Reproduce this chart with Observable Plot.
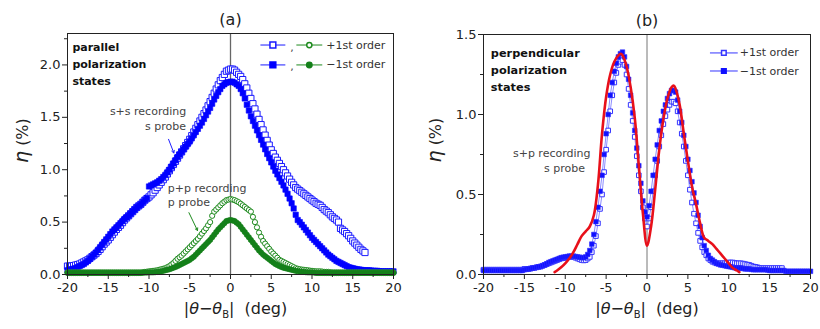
<!DOCTYPE html>
<html><head><meta charset="utf-8">
<script src="https://cdn.jsdelivr.net/npm/d3@7"></script>
<script src="https://cdn.jsdelivr.net/npm/@observablehq/plot@0.6"></script>
<style>
body{margin:0;background:#fff;}
#wrap{display:flex;width:820px;height:329px;overflow:hidden;}
</style></head><body><div id="wrap"></div>
<script>
// ---------- data ----------
const gridX = [-20,-19.75,-19.5,-19.25,-19,-18.75,-18.5,-18.25,-18,-17.75,-17.5,-17.25,-17,-16.75,-16.5,-16.25,-16,-15.75,-15.5,-15.25,
  -15,-14.75,-14.5,-14.25,-14,-13.75,-13.5,-13.25,-13,-12.75,-12.5,-12.25,-12,-11.75,-11.5,-11.25,-11,-10.75,-10.5,-10.25,
  -10,-9.75,-9.5,-9.25,-9,-8.75,-8.5,-8.25,-8,-7.75,-7.5,-7.25,-7,-6.75,-6.5,-6.25,-6,-5.75,-5.5,-5.25,
  -5,-4.75,-4.5,-4.25,-4,-3.75,-3.5,-3.25,-3,-2.75,-2.5,-2.25,-2,-1.75,-1.5,-1.25,-1,-0.75,-0.5,-0.25,
  0,0.25,0.5,0.75,1,1.25,1.5,1.75,2,2.25,2.5,2.75,3,3.25,3.5,3.75,4,4.25,4.5,4.75,
  5,5.25,5.5,5.75,6,6.25,6.5,6.75,7,7.25,7.5,7.75,8,8.25,8.5,8.75,9,9.25,9.5,9.75,
  10,10.25,10.5,10.75,11,11.25,11.5,11.75,12,12.25,12.5,12.75,13,13.25,13.5,13.75,14,14.25,14.5,14.75,
  15,15.25,15.5,15.75,16,16.25,16.5,16.75,17,17.25,17.5,17.75,18,18.25,18.5,18.75,19,19.25,19.5,19.75,
  20];

// panel (a): parallel polarization states (+1st = open, -1st = filled)
const aBlueOpen = [
  .08,.08,.08,.085,.09,.095,.10,.11,.12,.13,.14,.155,.17,.185,.20,.22,.24,.265,.29,.31,
  .33,.355,.38,.405,.43,.45,.47,.495,.52,.54,.56,.58,.60,.62,.64,.655,.67,.69,.71,.725,
  .74,.76,.78,.805,.83,.855,.88,.905,.93,.96,.99,1.02,1.05,1.08,1.11,1.14,1.17,1.20,1.23,1.26,
  1.29,1.325,1.36,1.395,1.43,1.465,1.50,1.535,1.57,1.61,1.65,1.69,1.73,1.77,1.81,1.85,1.88,1.91,1.94,1.95,
  1.96,1.96,1.95,1.93,1.91,1.89,1.86,1.82,1.78,1.73,1.68,1.63,1.58,1.53,1.48,1.43,1.38,1.33,1.28,1.235,
  1.19,1.155,1.12,1.09,1.06,1.03,1.00,.97,.94,.91,.88,.855,.83,.815,.80,.785,.77,.755,.74,.725,
  .71,.695,.68,.67,.66,.64,.62,.605,.59,.57,.55,.535,.52,.50,.44,.425,.41,.39,.37,.345,
  .32,.30,.28,.26,.24,.225,.21];
const aBlueFilled = [
  .04,.045,.05,.055,.06,.07,.08,.09,.10,.115,.13,.15,.17,.19,.21,.235,.26,.285,.31,.335,
  .36,.385,.41,.43,.45,.47,.49,.51,.53,.545,.56,.58,.60,.62,.64,.655,.67,.69,.71,.73,
  .84,.85,.86,.87,.88,.895,.91,.93,.95,.975,1.00,1.03,1.06,1.09,1.12,1.145,1.17,1.195,1.22,1.245,
  1.27,1.30,1.33,1.36,1.39,1.42,1.45,1.485,1.52,1.555,1.59,1.63,1.67,1.705,1.74,1.77,1.80,1.815,1.83,1.835,
  1.84,1.84,1.83,1.815,1.80,1.77,1.73,1.68,1.62,1.565,1.51,1.465,1.42,1.375,1.33,1.285,1.24,1.195,1.15,1.11,
  1.07,1.03,.99,.955,.92,.885,.85,.81,.77,.725,.68,.63,.57,.52,.50,.475,.45,.425,.40,.375,
  .35,.33,.31,.29,.27,.25,.23,.21,.19,.175,.16,.145,.13,.12,.11,.10,.09,.08,.07,.065,
  .06,.055,.05,.048,.045,.042,.04,.04,.04,.038,.035,.035,.035,.032,.03,.03,.03,.03,.03,.03,
  .03];
const aGreenOpen = [
  .02,.02,.02,.02,.02,.02,.02,.02,.02,.02,.02,.02,.02,.02,.02,.02,.02,.02,.02,.02,
  .02,.02,.02,.02,.02,.02,.02,.02,.02,.02,.02,.02,.02,.02,.02,.02,.02,.022,.025,.027,
  .03,.032,.035,.037,.04,.045,.05,.055,.06,.07,.08,.095,.11,.13,.15,.165,.18,.20,.22,.24,
  .26,.28,.30,.32,.34,.365,.39,.415,.44,.47,.50,.56,.60,.62,.64,.66,.68,.695,.71,.715,
  .72,.715,.71,.70,.69,.675,.66,.645,.63,.615,.60,.55,.50,.45,.40,.36,.32,.295,.27,.245,
  .22,.20,.18,.16,.14,.13,.12,.11,.10,.09,.08,.07,.06,.055,.05,.047,.045,.042,.04,.037,
  .035,.032,.03,.03,.03,.028,.025,.025,.025,.022,.02,.02,.02,.02,.02,.02,.02,.02,.02,.02,
  .02,.02,.02,.02,.02,.02,.02,.02,.02,.02,.02,.02,.02,.02,.02,.02,.02,.02,.02,.02,
  .02];
const aGreenFilled = [
  .015,.015,.015,.015,.015,.015,.015,.015,.015,.015,.015,.015,.015,.015,.015,.015,.015,.015,.015,.015,
  .015,.015,.015,.015,.015,.015,.015,.015,.015,.015,.015,.015,.015,.015,.015,.015,.015,.017,.018,.019,
  .02,.02,.02,.022,.025,.027,.03,.035,.04,.045,.05,.057,.065,.072,.08,.09,.10,.11,.12,.13,
  .14,.155,.17,.19,.21,.23,.25,.27,.29,.31,.33,.355,.38,.405,.43,.45,.47,.49,.51,.515,
  .52,.515,.51,.495,.48,.455,.43,.405,.38,.355,.33,.305,.28,.255,.23,.21,.19,.175,.16,.145,
  .13,.115,.10,.09,.08,.072,.065,.06,.055,.05,.045,.04,.035,.032,.03,.027,.025,.022,.02,.02,
  .02,.018,.015,.015,.015,.015,.015,.015,.015,.015,.015,.015,.015,.015,.015,.015,.015,.015,.015,.015,
  .015,.015,.015,.015,.015,.015,.015,.015,.015,.015,.015,.015,.015,.015,.015,.015,.015,.015,.015,.015,
  .015];

// panel (b): perpendicular polarization states
const bBlueOpen = [
  .03,.03,.03,.03,.03,.03,.03,.03,.03,.03,.03,.03,.03,.03,.03,.03,.03,.03,.03,.03,
  .035,.035,.035,.037,.04,.042,.045,.048,.05,.055,.06,.065,.07,.075,.08,.085,.09,.095,.10,.102,
  .105,.108,.11,.11,.11,.105,.10,.095,.09,.088,.09,.10,.11,.14,.18,.24,.32,.41,.50,.64,
  .78,.90,1.02,1.12,1.20,1.26,1.31,1.33,1.34,1.31,1.25,1.16,1.06,.96,.86,.74,.62,.52,.42,.35,
  .30,.35,.42,.52,.62,.71,.80,.87,.94,.99,1.03,1.06,1.08,1.08,1.07,1.02,.95,.88,.80,.71,
  .62,.53,.45,.38,.32,.26,.21,.17,.14,.12,.10,.09,.08,.075,.07,.07,.07,.07,.07,.072,
  .075,.075,.075,.072,.07,.07,.07,.068,.065,.062,.06,.055,.05,.048,.045,.042,.04,.04,.04,.04,
  .04,.04,.04,.04,.04,.04,.04];
const bBlueFilled = [
  .025,.025,.025,.025,.025,.025,.025,.025,.025,.025,.025,.025,.025,.025,.025,.025,.025,.025,.025,.025,
  .03,.032,.035,.037,.04,.042,.045,.048,.05,.055,.06,.067,.075,.08,.085,.09,.095,.10,.105,.108,
  .11,.112,.115,.115,.115,.112,.11,.108,.105,.105,.11,.125,.15,.19,.25,.33,.42,.52,.62,.75,
  .88,1.00,1.12,1.20,1.27,1.32,1.36,1.38,1.39,1.36,1.30,1.22,1.12,1.01,.90,.79,.68,.57,.46,.39,
  .36,.43,.52,.62,.72,.81,.90,.96,1.02,1.06,1.10,1.13,1.15,1.15,1.14,1.09,1.02,.95,.87,.80,
  .72,.65,.58,.51,.45,.37,.30,.23,.18,.15,.12,.10,.09,.08,.07,.065,.06,.058,.055,.052,
  .05,.048,.045,.042,.04,.04,.04,.038,.035,.035,.035,.032,.03,.03,.03,.03,.03,.03,.03,.028,
  .025,.025,.025,.025,.025,.025,.025,.025,.02,.02,.02,.02,.02,.02,.02,.02,.02,.02,.02,.02,
  .02];
const fitX = [-11.3,-11,-10.5,-10,-9.5,-9,-8.5,-8,-7.5,-7,-6.5,-6,-5.5,-5,-4.5,-4,-3.5,-3.2,-3,-2.5,
  -2,-1.5,-1,-0.5,0,0.5,1,1.5,2,2.5,3,3.3,3.5,4,4.5,5,5.5,6,6.5,7,7.5,8,8.5,9,9.5,10,10.5,11,11.3];
const fitY = [0.015,0.025,0.045,0.07,0.10,0.14,0.19,0.24,0.27,0.30,0.37,0.56,0.88,1.11,1.25,1.33,1.37,1.38,1.37,1.30,
  1.17,0.98,0.68,0.38,0.18,0.30,0.53,0.78,0.97,1.10,1.17,1.18,1.16,1.06,0.88,0.71,0.55,0.44,0.32,0.23,0.21,0.19,0.16,0.13,0.10,0.07,0.04,0.025,0.015];

const xMajor = [-20,-15,-10,-5,0,5,10,15,20];
const xMinor = [-17.5,-12.5,-7.5,-2.5,2.5,7.5,12.5,17.5];
const yMajorA = [0,0.5,1,1.5,2];
const yMinorA = [0.25,0.75,1.25,1.75,2.25];
const yMajorB = [0,0.5,1,1.5];
const yMinorB = [0.25,0.75,1.25];
const legendLabels = ["+1st order", "\u22121st order"];

// ---------- helpers ----------
const rows = ys => ys.map((y, i) => ({x: gridX[i], y}));
const fitRows = fitX.map((x, i) => ({x, y: fitY[i]}));
const FONT = "DejaVu Sans, sans-serif";

function axes(yMajor, yMinor) {
  return [
    Plot.axisX({ticks: xMajor, tickSize: 5, tickPadding: 3, tickFormat: d => String(d), label: null}),
    Plot.axisX({ticks: xMinor, tickSize: 3, tickFormat: () => "", label: null}),
    Plot.axisY({ticks: yMajor, tickSize: 5, tickPadding: 2, tickFormat: d => d.toFixed(1), label: null}),
    Plot.axisY({ticks: yMinor, tickSize: 3, tickFormat: () => "", label: null})
  ];
}
function labels(title, ydx, ydy, xdx) {
  return [
    Plot.text([title], {text: d => d, frameAnchor: "top", dy: -20, fontSize: 16, fill: "#222"}),
    Plot.text(["XLABEL"], {text: d => d, frameAnchor: "bottom", dy: 39, dx: xdx, fontSize: 16, fill: "#222"}),
    Plot.text(["YLABEL"], {text: d => d, frameAnchor: "left", dx: ydx, dy: ydy, rotate: -90, fontSize: 16, fill: "#222"})
  ];
}
function rich(svg) {
  d3.select(svg).selectAll("text").each(function() {
    const t = d3.select(this);
    const s = this.textContent;
    if (s === "XLABEL") {
      t.text(null).attr("xml:space", "preserve");
      t.append("tspan").text("|");
      t.append("tspan").attr("font-style", "italic").text("\u03b8");
      t.append("tspan").text("\u2212");
      t.append("tspan").attr("font-style", "italic").text("\u03b8");
      t.append("tspan").attr("font-size", 10).attr("dy", 4).text("B");
      t.append("tspan").attr("dy", -4).text("|  (deg)");
    } else if (s === "YLABEL") {
      t.text(null).attr("xml:space", "preserve");
      t.append("tspan").attr("font-style", "italic").attr("font-size", 19).text("\u03b7");
      t.append("tspan").text(" (%)");
    }
  });
}

// ---------- panel (a) ----------
const aLegY = [2.19, 2.0];
const plotA = Plot.plot({
  width: 410, height: 329, marginTop: 33, marginBottom: 55, marginLeft: 67, marginRight: 17,
  x: {domain: [-20, 20]}, y: {domain: [0, 2.3]},
  style: {fontFamily: FONT, fontSize: "13px", color: "#222", background: "white"},
  marks: [
    Plot.ruleX([0], {stroke: "#666", strokeWidth: 1.3}),
    Plot.dot(rows(aBlueOpen), {x: "x", y: "y", symbol: "square", r: 3.5, stroke: "#1a1aff", fill: "white", strokeWidth: 1}),
    Plot.dot(rows(aBlueFilled), {x: "x", y: "y", symbol: "square", r: 3.0, fill: "#0000ff", stroke: "#0000ff", strokeWidth: 0.6}),
    Plot.dot(rows(aGreenOpen), {x: "x", y: "y", symbol: "circle", r: 2.6, stroke: "#1e8a1e", fill: "white", strokeWidth: 1}),
    Plot.dot(rows(aGreenFilled), {x: "x", y: "y", symbol: "circle", r: 2.7, fill: "#14801a", stroke: "#14801a", strokeWidth: 0.6}),
    Plot.frame({stroke: "#222", strokeWidth: 1}),
    ...axes(yMajorA, yMinorA),
    // annotations
    Plot.text(["parallel", "polarization", "states"], {x: -19.4, y: (d, i) => [2.166, 2.003, 1.84][i], text: d => d, textAnchor: "start", fontSize: 11, fontWeight: "bold", fill: "#111"}),
    Plot.text(["s+s recording", "s probe"], {x: (d, i) => [-14.8, -10.5][i], y: (d, i) => [1.56, 1.41][i], text: d => d, textAnchor: "start", fontSize: 11, fill: "#444"}),
    Plot.arrow([{x1: -7.6, y1: 1.29, x2: -6.95, y2: 1.16}], {x1: "x1", y1: "y1", x2: "x2", y2: "y2", stroke: "#2020ff", strokeWidth: 1, headLength: 4}),
    Plot.text(["p+p recording", "p probe"], {x: -7.7, y: (d, i) => [0.824, 0.69][i], text: d => d, textAnchor: "start", fontSize: 11, fill: "#444"}),
    Plot.arrow([{x1: -5.1, y1: 0.59, x2: -4.05, y2: 0.42}], {x1: "x1", y1: "y1", x2: "x2", y2: "y2", stroke: "#1e8a1e", strokeWidth: 1, headLength: 4}),
    // legend
    Plot.link(aLegY, {x1: 3.67, x2: 6.73, y1: d => d, y2: d => d, stroke: "#1a1aff", strokeWidth: 1}),
    Plot.link(aLegY, {x1: 8.08, x2: 11.26, y1: d => d, y2: d => d, stroke: "#1e8a1e", strokeWidth: 1}),
    Plot.dot([aLegY[0]], {x: 5.2, y: d => d, symbol: "square", r: 3.3, stroke: "#1a1aff", fill: "white"}),
    Plot.dot([aLegY[1]], {x: 5.2, y: d => d, symbol: "square", r: 3.3, stroke: "#0000ff", fill: "#0000ff"}),
    Plot.dot([aLegY[0]], {x: 9.67, y: d => d, symbol: "circle", r: 2.6, stroke: "#1e8a1e", fill: "white"}),
    Plot.dot([aLegY[1]], {x: 9.67, y: d => d, symbol: "circle", r: 2.7, stroke: "#14801a", fill: "#14801a"}),
    Plot.text(aLegY, {x: 7.55, y: d => d, text: () => ",", fontSize: 11, fill: "#444", dy: 2}),
    Plot.text(aLegY, {x: 11.75, y: d => d, text: (d, i) => legendLabels[i], textAnchor: "start", fontSize: 11, fill: "#333"}),
    ...labels("(a)", -45, 9, 5)
  ]
});

// ---------- panel (b) ----------
const bLegY = [1.385, 1.272];
const plotB = Plot.plot({
  width: 410, height: 329, marginTop: 34, marginBottom: 55, marginLeft: 73, marginRight: 10,
  x: {domain: [-20, 20]}, y: {domain: [0, 1.5]},
  style: {fontFamily: FONT, fontSize: "13px", color: "#222", background: "white"},
  marks: [
    Plot.ruleX([0], {stroke: "#777", strokeWidth: 1}),
    Plot.line(rows(bBlueOpen), {x: "x", y: "y", stroke: "#8c8cff", strokeWidth: 1}),
    Plot.line(rows(bBlueFilled), {x: "x", y: "y", stroke: "#8c8cff", strokeWidth: 1}),
    Plot.dot(rows(bBlueOpen), {x: "x", y: "y", symbol: "square", r: 2.6, stroke: "#3535ff", fill: "white", strokeWidth: 1}),
    Plot.dot(rows(bBlueFilled), {x: "x", y: "y", symbol: "square", r: 2.6, fill: "#1010ff", stroke: "#3030ff", strokeWidth: 0.6}),
    Plot.line(fitRows, {x: "x", y: "y", stroke: "#e8101a", strokeWidth: 2.6, curve: "catmull-rom"}),
    Plot.frame({stroke: "#222", strokeWidth: 1}),
    ...axes(yMajorB, yMinorB),
    Plot.text(["perpendicular", "polarization", "states"], {x: -19.1, y: (d, i) => [1.383, 1.277, 1.17][i], text: d => d, textAnchor: "start", fontSize: 11.3, fontWeight: "bold", fill: "#111"}),
    Plot.text(["s+p recording", "s probe"], {x: (d, i) => [-16.4, -12.6][i], y: (d, i) => [0.757, 0.663][i], text: d => d, textAnchor: "start", fontSize: 11, fill: "#444"}),
    // legend
    Plot.link(bLegY, {x1: 7.7, x2: 11.1, y1: d => d, y2: d => d, stroke: "#8080ff", strokeWidth: 1.6}),
    Plot.dot([bLegY[0]], {x: 9.4, y: d => d, symbol: "square", r: 2.6, stroke: "#3535ff", fill: "white"}),
    Plot.dot([bLegY[1]], {x: 9.4, y: d => d, symbol: "square", r: 2.6, stroke: "#1010ff", fill: "#1010ff"}),
    Plot.text(bLegY, {x: 11.35, y: d => d, text: (d, i) => legendLabels[i], textAnchor: "start", fontSize: 11, fill: "#333"}),
    ...labels("(b)", -48, 8, 0)
  ]
});

rich(plotA); rich(plotB);
document.getElementById("wrap").append(plotA, plotB);
</script></body></html>
